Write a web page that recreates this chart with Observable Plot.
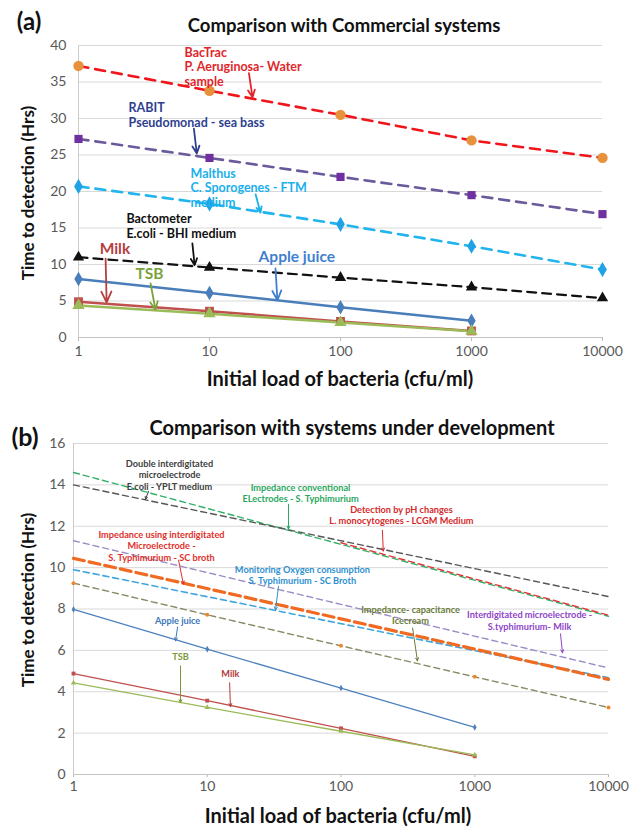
<!DOCTYPE html>
<html><head><meta charset="utf-8">
<script src="https://cdn.jsdelivr.net/npm/d3@7"></script>
<script src="https://cdn.jsdelivr.net/npm/@observablehq/plot@0.6"></script>
<style>
body{margin:0;background:#fff;}
#wrap{position:relative;width:632px;height:829px;overflow:hidden;font-family:Lato,"Open Sans",sans-serif;}
#wrap svg{position:absolute;left:0;}
.t{position:absolute;white-space:nowrap;color:#111;font-weight:bold;line-height:1;transform:translate(-50%,-50%);}
</style></head><body><div id="wrap"></div>
<script>
// ---------- shared ----------
const loads = [1, 10, 100, 1000, 10000];
const loadTicks = [1, 10, 100, 1000, 10000];

// ---------- panel (a): commercial systems ----------
const yTicksA = [0, 5, 10, 15, 20, 25, 30, 35, 40];
const bactrac    = [37.2, 33.8, 30.5, 27.0, 24.6];
const rabit      = [27.2, 24.6, 22.0, 19.5, 16.9];
const malthus    = [20.7, 18.3, 15.5, 12.5, 9.3];
const bactometer = [11.0, 9.6, 8.2, 6.9, 5.4];
const appleA     = [8.0, 6.1, 4.15, 2.3];
const milkA      = [4.9, 3.6, 2.2, 0.9];
const tsbA       = [4.4, 3.25, 2.05, 0.85];

const notesA = [
  {key:"bactrac", text:"BacTrac\nP. Aeruginosa- Water\nsample", x:6.45, y:37.1},
  {key:"rabit", text:"RABIT\nPseudomonad - sea bass", x:2.41, y:30.5},
  {key:"malthus", text:"Malthus\nC. Sporogenes - FTM\nmedium", x:7.16, y:20.5},
  {key:"bactometer", text:"Bactometer\nE.coli - BHI medium", x:2.32, y:15.3},
  {key:"apple", text:"Apple juice", x:23.7, y:11.0},
  {key:"milk", text:"Milk", x:1.45, y:12.1},
  {key:"tsb", text:"TSB", x:2.72, y:8.7}
];
const arrowsA = [
  {key:"bactrac", x1:20.0, y1:36.2, x2:21.3, y2:32.9},
  {key:"rabit", x1:7.6, y1:28.6, x2:8.0, y2:25.2},
  {key:"malthus", x1:22.5, y1:19.6, x2:24.5, y2:17.1},
  {key:"bactometer", x1:7.4, y1:12.9, x2:7.7, y2:9.9},
  {key:"apple", x1:31.9, y1:9.45, x2:33.0, y2:5.1},
  {key:"milk", x1:1.61, y1:10.8, x2:1.64, y2:4.8},
  {key:"tsb", x1:3.55, y1:7.4, x2:3.87, y2:3.8}
];

// ---------- panel (b): systems under development ----------
const yTicksB = [0, 2, 4, 6, 8, 10, 12, 14, 16];
const endLoads = [1, 10000];
const phLoads = [100, 10000];
const dblInter  = [14.0, 8.6];
const impConv   = [14.6, 7.65];
const phChange  = [11.2, 7.7];
const interMilk = [11.3, 5.15];
const oxygen    = [9.9, 4.68];
const impSC     = [10.45, 4.6];
const icecream  = [9.25, 7.72, 6.22, 4.72, 3.24];
const appleB    = [7.98, 6.06, 4.18, 2.28];
const milkB     = [4.88, 3.57, 2.23, 0.88];
const tsbB      = [4.43, 3.24, 2.09, 0.95];

const notesB = [
  {key:"dbl", text:"Double interdigitated\nmicroelectrode\nE.coli - YPLT medium", x:5.22, y:14.5},
  {key:"conv", text:"Impedance conventional\nELectrodes - S. Typhimurium", x:49.8, y:13.61},
  {key:"ph", text:"Detection by pH changes\nL. monocytogenes - LCGM Medium", x:283, y:12.55},
  {key:"sc", text:"Impedance using interdigitated\nMicroelectrode -\nS. Typhimurium - SC broth", x:4.55, y:11.06},
  {key:"oxy", text:"Monitoring Oxygen consumption\nS. Typhimurium - SC Broth", x:51.5, y:9.64},
  {key:"ice", text:"Impedance- capacitance\nIcecream", x:331, y:7.73},
  {key:"imilk", text:"Interdigitated microelectrode -\nS.typhimurium- Milk", x:2570, y:7.45},
  {key:"apple", text:"Apple juice", x:6.0, y:7.47},
  {key:"tsb", text:"TSB", x:6.31, y:5.73},
  {key:"milk", text:"Milk", x:14.9, y:4.87}
];
const arrowsB = [
  {key:"dbl", x1:3.64, y1:13.69, x2:3.45, y2:13.3},
  {key:"conv", x1:40.5, y1:13.06, x2:40.5, y2:11.86},
  {key:"ph", x1:204, y1:11.8, x2:207, y2:10.8},
  {key:"sc", x1:6.1, y1:10.36, x2:6.64, y2:9.2},
  {key:"oxy", x1:34.1, y1:9.1, x2:32.4, y2:7.95},
  {key:"ice", x1:343, y1:7.08, x2:373, y2:5.49},
  {key:"imilk", x1:4375, y1:6.8, x2:4530, y2:5.88},
  {key:"apple", x1:6.0, y1:7.13, x2:5.79, y2:6.46},
  {key:"tsb", x1:6.31, y1:5.25, x2:6.31, y2:3.47},
  {key:"milk", x1:14.7, y1:4.43, x2:14.9, y2:3.28}
];

// ---------- styles ----------
const colA = {bactrac:"#e0262b", rabit:"#2f3f8f", malthus:"#1ab0ec", bactometer:"#111111",
  apple:"#3f7fcf", milk:"#b54040", tsb:"#7aa23c"};
const colB = {dbl:"#404040", conv:"#2aa860", ph:"#d42a2a", sc:"#e0302c", oxy:"#2e8fd0",
  ice:"#6b7b3b", imilk:"#8e44c8", apple:"#3d77b8", tsb:"#7a9a3a", milk:"#b03a3a"};

const rows = (vals, xs = loads) => vals.map((v, i) => ({x: xs[i], y: v}));

const wrap = document.getElementById("wrap");
function label(text, x, y, size, rot) {
  const d = document.createElement("div");
  d.className = "t";
  d.textContent = text;
  d.style.left = x + "px"; d.style.top = y + "px"; d.style.fontSize = size + "px";
  if (rot) d.style.transform = "translate(-50%,-50%) rotate(-90deg)";
  wrap.appendChild(d);
}

// ---------- plot (a) ----------
const dashA = (vals, stroke, w, dash) => Plot.line(rows(vals), {x:"x", y:"y", stroke, strokeWidth:w, strokeDasharray:dash});
const solidA = (vals, stroke) => Plot.line(rows(vals), {x:"x", y:"y", stroke, strokeWidth:2.5});
const dotsA = (vals, symbol, fill, r) => Plot.dot(rows(vals), {x:"x", y:"y", symbol, fill, r, stroke:"none"});

const plotA = Plot.plot({
  width: 632, height: 395,
  marginLeft: 78, marginRight: 30, marginTop: 45, marginBottom: 58,
  style: {fontFamily: "Lato, 'Open Sans', sans-serif", fontSize: "14px", color: "#595959", background: "transparent"},
  x: {type: "log", domain: [1, 10000], label: null},
  y: {domain: [0, 40], label: null},
  marks: [
    Plot.gridY(yTicksA, {stroke: "#d9d9d9", strokeOpacity: 1}),
    Plot.ruleX([1], {stroke: "#cccccc"}),
    Plot.axisY(yTicksA, {tickSize: 0, tickPadding: 12, label: null}),
    Plot.axisX(loadTicks, {tickSize: 4, tickPadding: 5, stroke: "#bbbbbb", tickFormat: d => String(d), label: null}),
    Plot.ruleY([0], {stroke: "#c4c4c4"}),
    dashA(bactrac, "#f0151a", 2.6, "10,7"),
    dashA(rabit, "#6a5a9c", 2.6, "10,7"),
    dashA(malthus, "#22b4ee", 2.6, "10,7"),
    dashA(bactometer, "#111111", 2.2, "9,6"),
    solidA(appleA, "#4a7ebb"),
    solidA(milkA, "#c0504d"),
    solidA(tsbA, "#9bbb59"),
    dotsA(bactrac, "circle", "#e8913c", 5.2),
    dotsA(rabit, "square", "#7030a0", 4.6),
    dotsA(malthus, "diamond", "#1fa3e4", 4.6),
    dotsA(bactometer, "triangle", "#111111", 4.2),
    dotsA(appleA, "diamond", "#4a7ebb", 4.4),
    dotsA(milkA, "square", "#c0504d", 5),
    dotsA(tsbA, "triangle", "#9bbb59", 4.6),
    Plot.arrow(arrowsA, {x1:"x1", y1:"y1", x2:"x2", y2:"y2", stroke: d => colA[d.key], strokeWidth: 1.8, headLength: 10, headAngle: 50}),
    Plot.text(notesA.filter(d => !["apple","milk","tsb"].includes(d.key)), {x:"x", y:"y", text:"text", fill: d => colA[d.key],
      textAnchor:"start", lineAnchor:"middle", lineHeight:1.15, fontSize:12.5, fontWeight:"bold"}),
    Plot.text(notesA.filter(d => ["apple","milk","tsb"].includes(d.key)), {x:"x", y:"y", text:"text", fill: d => colA[d.key],
      textAnchor:"start", lineAnchor:"middle", fontSize:15.5, fontWeight:"bold"})
  ]
});
plotA.style.top = "0px";
wrap.appendChild(plotA);

// ---------- plot (b) ----------
const thin = (vals, xs, stroke, w, dash) => Plot.line(rows(vals, xs), {x:"x", y:"y", stroke, strokeWidth:w, strokeDasharray:dash});
const plotB = Plot.plot({
  width: 632, height: 434,
  marginLeft: 73, marginRight: 24, marginTop: 48, marginBottom: 55,
  style: {fontFamily: "Lato, 'Open Sans', sans-serif", fontSize: "14px", color: "#595959", background: "transparent"},
  x: {type: "log", domain: [1, 10000], label: null},
  y: {domain: [0, 16], label: null},
  marks: [
    Plot.gridY(yTicksB, {stroke: "#d9d9d9", strokeOpacity: 1}),
    Plot.ruleX([1], {stroke: "#cccccc"}),
    Plot.axisY(yTicksB, {tickSize: 0, tickPadding: 8, label: null}),
    Plot.axisX(loadTicks, {tickSize: 3, tickPadding: 4, stroke: "#bbbbbb", tickFormat: d => String(d), label: null}),
    Plot.ruleY([0], {stroke: "#c4c4c4"}),
    thin(impConv, endLoads, "#33b16a", 1.4, "6,4"),
    thin(dblInter, endLoads, "#555555", 1.4, "6,4"),
    thin(phChange, phLoads, "#e03535", 1.4, "6,4"),
    thin(interMilk, endLoads, "#9d8cc6", 1.4, "6,4"),
    thin(oxygen, endLoads, "#3ea6dc", 1.6, "6,4"),
    thin(impSC, endLoads, "#f06a21", 3.2, "11,5"),
    thin(icecream, loads, "#8a8a66", 1.4, "6,4"),
    Plot.dot(rows(icecream), {x:"x", y:"y", r:2, fill:"#f0862a"}),
    thin(appleB, loads, "#4f81bd", 1.3, null),
    thin(milkB, loads, "#c0504d", 1.3, null),
    thin(tsbB, loads, "#9bbb59", 1.3, null),
    Plot.dot(rows(appleB), {x:"x", y:"y", r:2, fill:"#4f81bd", symbol:"diamond"}),
    Plot.dot(rows(milkB), {x:"x", y:"y", r:2.2, fill:"#c0504d", symbol:"square"}),
    Plot.dot(rows(tsbB), {x:"x", y:"y", r:2, fill:"#9bbb59", symbol:"triangle"}),
    Plot.arrow(arrowsB, {x1:"x1", y1:"y1", x2:"x2", y2:"y2", stroke: d => colB[d.key], strokeWidth: 1, headLength: 5, headAngle: 50}),
    Plot.text(notesB, {x:"x", y:"y", text:"text", fill: d => colB[d.key],
      textAnchor:"middle", lineAnchor:"middle", lineHeight:1.25, fontSize:9.2, fontWeight:"bold"})
  ]
});
plotB.style.top = "395px";
wrap.appendChild(plotB);

// ---------- titles & axis labels ----------
label("(a)", 29, 21, 24);
label("Comparison with Commercial systems", 344, 25, 18.5);
label("Time to detection (Hrs)", 27, 193, 17, true);
label("Initial load of bacteria (cfu/ml)", 340, 378, 20);
label("(b)", 25, 436, 25);
label("Comparison with systems under development", 352, 427, 20);
label("Time to detection (Hrs)", 27, 600, 17, true);
label("Initial load of bacteria (cfu/ml)", 338, 815, 20);
</script></body></html>
